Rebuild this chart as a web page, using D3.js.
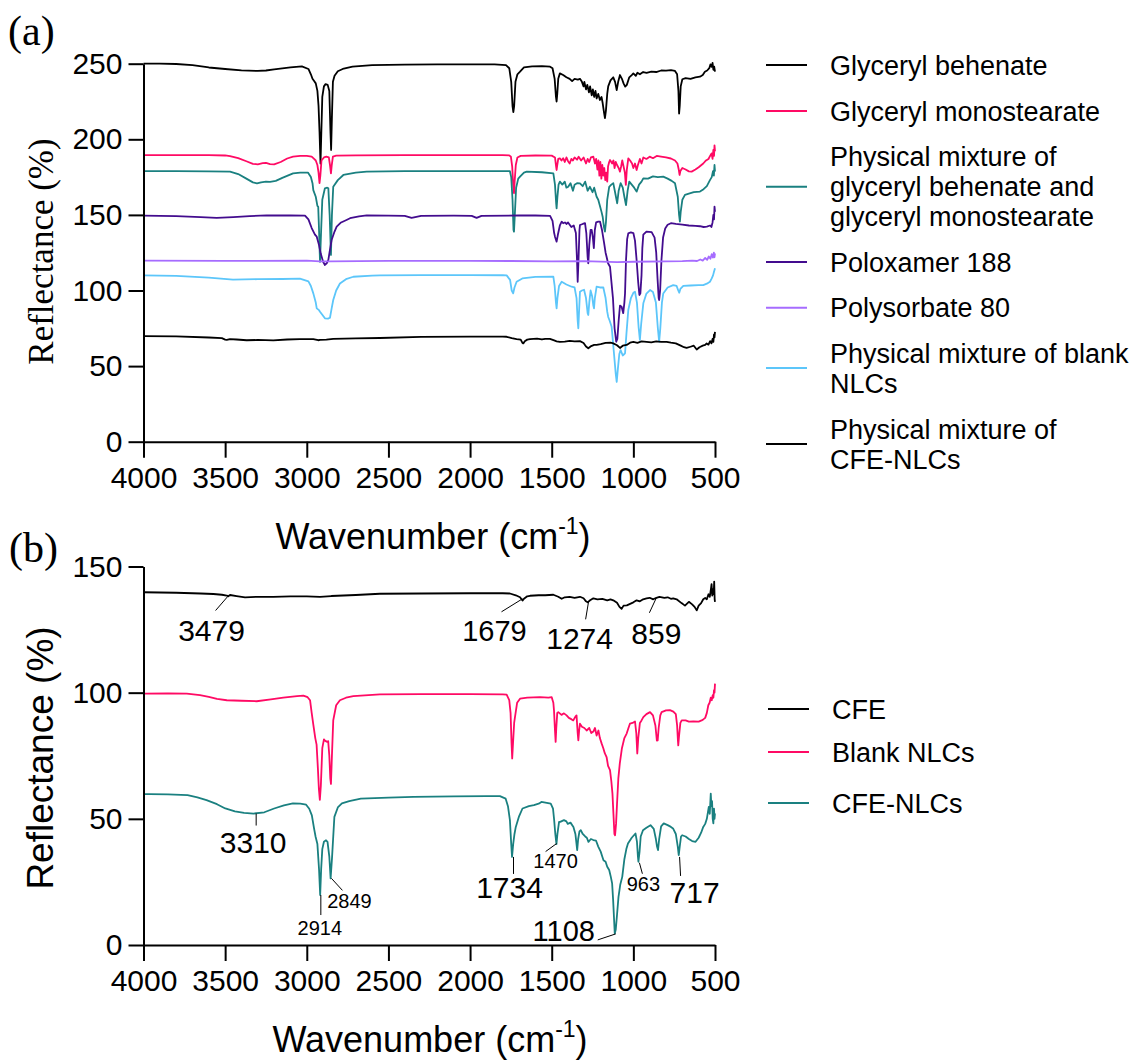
<!DOCTYPE html>
<html>
<head>
<meta charset="utf-8">
<script src="https://cdn.jsdelivr.net/npm/d3@7"></script>
<style>
body { margin: 0; background: #fff; }
text { font-family: Arial, "Liberation Sans", sans-serif; fill: #000; }
</style>
</head>
<body>
<div id="chart"></div>
<script>
// ---- data (wavenumber cm-1, reflectance %) ----
var glyBehenate = [[4000,250],[3900,250],[3800,249.8],[3700,249],[3600,247.5],[3500,246.5],[3400,245.6],[3300,245.2],[3250,245.5],[3200,246.3],[3100,247.5],[3030,248.2],[2990,246.5],[2975,243],[2965,240],[2955,238.5],[2945,237],[2935,232],[2928,222],[2922,205],[2916,184],[2912,200],[2905,228],[2895,235],[2885,236.5],[2872,236],[2862,232],[2855,205],[2851,193],[2846,215],[2840,238],[2830,242],[2810,245],[2780,246.5],[2720,248],[2600,249],[2400,249.4],[2200,249.5],[2000,249.6],[1850,249.5],[1780,249],[1760,247],[1748,238],[1740,222],[1735,218],[1730,222],[1722,238],[1710,243],[1694,244.7],[1670,247.5],[1620,248.2],[1560,248.4],[1510,248],[1495,247],[1482,240],[1474,228],[1470,225],[1466,230],[1460,240],[1450,243.6],[1430,242.5],[1410,241],[1390,240],[1375,238.5],[1360,240],[1340,239.5],[1327,240],[1315,238],[1305,235],[1300,238],[1290,233],[1282,236],[1272,231],[1265,235],[1255,229],[1248,233],[1240,228],[1232,232],[1225,227],[1215,230],[1205,226],[1195,228],[1188,224],[1180,218],[1174,214],[1168,219],[1160,230],[1154,235],[1140,239],[1123,241],[1112,238],[1102,232.6],[1093,238],[1082,242.5],[1070,240],[1060,237],[1050,234.8],[1040,236],[1025,241],[1010,242.5],[1000,243.6],[985,242],[975,244],[960,243],[940,244.5],[919,244],[890,244.8],[860,244.5],[830,245.5],[800,245.4],[770,245.8],[745,245.2],[732,243],[724,232],[720,217],[716,222],[710,235],[700,239.7],[680,240.5],[650,240],[620,241],[592,241.4],[575,242.5],[562,244.7],[548,245.5],[535,247],[528,249.5],[521,248],[515,250.5],[510,246],[505,248],[500,244.7]];

var glyMonostearate = [[4000,189.6],[3800,189.6],[3600,189.5],[3500,189.3],[3470,188.8],[3420,187.5],[3370,185.5],[3330,183.8],[3300,183.4],[3270,184.2],[3250,184.4],[3225,183.6],[3200,183.4],[3160,185],[3120,187.3],[3084,188.5],[3040,189],[3000,189],[2970,188.5],[2955,187],[2945,186],[2935,183],[2928,178],[2922,171],[2917,176],[2910,186],[2895,188],[2880,188.5],[2865,188],[2858,183],[2852,177.5],[2847,183],[2840,188.5],[2820,189.2],[2700,189.4],[2400,189.5],[2000,189.5],[1800,189.5],[1760,189.4],[1750,188.5],[1742,182],[1736,170],[1731,164.3],[1727,172],[1720,183],[1710,188],[1690,189],[1600,189.3],[1500,189.2],[1480,188],[1473,182],[1470,179.7],[1466,183],[1460,187],[1450,187.4],[1440,186],[1430,187.5],[1420,185],[1410,188],[1400,185.5],[1390,184],[1380,187],[1370,186],[1360,188],[1345,186.5],[1335,188.5],[1320,186],[1305,188],[1290,184],[1280,187],[1270,185],[1260,188],[1245,188.5],[1235,184],[1228,187],[1220,180],[1214,186],[1208,176],[1202,185],[1196,174],[1190,183],[1184,176],[1178,181],[1172,173],[1166,178],[1160,172],[1155,182],[1148,185],[1143,186.3],[1130,184],[1122,186],[1115,181],[1108,185],[1100,183],[1090,181],[1082,178.6],[1075,182],[1068,186],[1060,182],[1052,178],[1046,169.8],[1040,180],[1031,187.4],[1020,186],[1008,184],[1000,181],[990,184],[980,179.7],[972,183],[960,187],[950,184],[939,188],[920,187],[900,188.5],[880,187.5],[857,189],[830,188.5],[800,188],[770,187.3],[745,186],[730,184],[722,180],[717,176.4],[712,179],[700,181],[680,180],[660,178.8],[643,178.6],[620,180],[600,181.5],[572,184],[555,186],[540,187],[530,189],[521,190.7],[515,187],[510,193],[506,189],[503,196],[500,192]];

var mixGbGms = [[4000,179],[3800,179],[3600,178.8],[3470,178.6],[3420,177],[3370,174],[3330,171.5],[3305,170.9],[3280,171.5],[3250,172],[3225,171.9],[3190,172.5],[3150,174.5],[3084,177.5],[3040,178],[2993,178],[2975,175],[2965,171],[2960,166.4],[2945,162],[2935,156],[2930,155.4],[2925,140],[2919,119],[2912,140],[2905,160],[2889,167.6],[2875,168],[2868,167.6],[2860,150],[2852,123.5],[2846,150],[2838,168.6],[2810,173],[2776,176.4],[2700,178],[2633,178.6],[2400,179],[2000,179],[1800,179],[1756,178.9],[1748,175],[1740,160],[1734,140],[1731,138.9],[1726,150],[1718,168],[1705,174],[1694,175.3],[1670,178],[1653,178.6],[1560,178.2],[1490,177.5],[1480,170],[1473,158],[1470,154.3],[1465,162],[1458,170],[1450,172],[1435,170],[1420,172],[1410,168],[1399,168.6],[1385,171],[1370,166],[1360,170],[1345,171],[1327,170.9],[1310,169],[1295,172],[1280,166],[1266,168.6],[1250,165],[1240,168],[1225,162],[1215,160],[1205,156],[1195,152],[1188,148.8],[1180,142],[1174,138.9],[1168,145],[1160,160],[1148,168.6],[1135,170],[1123,171],[1112,165],[1099,157.7],[1090,166],[1078,171],[1065,168],[1055,162],[1045,156.5],[1035,166],[1025,172],[1010,170],[995,168],[980,165.4],[965,170],[950,172],[939,174.2],[910,174],[880,175.5],[850,175],[817,175.3],[790,174],[765,172.5],[745,170.9],[728,162],[720,150],[715,145.5],[710,152],[700,160],[684,163.2],[660,164],[630,165],[592,165.4],[570,167],[550,169],[531,173],[520,175],[512,179],[507,176],[503,183],[500,178.6]];

var poloxamer188 = [[4000,149.5],[3800,149.2],[3650,148.5],[3552,148],[3450,148.5],[3350,149.2],[3246,149.7],[3100,149.6],[3011,149.5],[2990,147],[2970,141.3],[2950,137],[2939,135.6],[2925,130],[2915,124.6],[2900,119],[2889,116.9],[2878,118],[2868,120.2],[2858,127],[2848,133.4],[2830,139],[2817,142.2],[2790,145],[2760,146.5],[2735,147.8],[2680,149],[2633,149.7],[2500,149.5],[2400,149.4],[2358,148],[2300,149.4],[2100,149.5],[1990,149.4],[1960,148],[1930,149.4],[1700,149.6],[1600,149.6],[1510,149.4],[1495,146],[1485,138],[1480,135.6],[1470,132.3],[1462,137],[1450,143],[1439,145.5],[1430,144.5],[1419,145],[1410,144],[1400,145],[1380,142],[1365,143],[1352,138],[1345,120],[1341,105.8],[1336,120],[1330,140],[1327,143.3],[1310,144],[1296,144.5],[1288,138],[1280,122],[1276,118],[1270,130],[1262,140],[1255,140],[1248,135],[1242,128],[1236,140],[1228,145],[1215,145.5],[1204,145.5],[1192,140],[1180,132],[1170,125],[1164,122.3],[1155,118],[1143,115.7],[1125,95],[1115,75],[1105,66.1],[1098,68],[1090,80],[1082,90],[1072,89.3],[1062,85],[1055,92],[1051,98],[1045,120],[1038,134],[1031,137.8],[1015,138.5],[1000,138],[990,133],[980,120],[970,105],[963,97],[957,98.1],[950,110],[945,128],[939,137],[920,139],[888,138.6],[870,135],[860,125],[852,108],[845,95],[842,93.7],[836,100],[828,120],[818,135],[805,141],[790,143.5],[770,144.5],[740,144],[700,143.5],[660,143],[620,142.8],[592,142.5],[570,142],[550,142.3],[530,143],[522,142],[515,145],[510,150],[506,147],[503,155.5],[500,152]];

var polysorbate80 = [[4000,119.7],[3500,119.6],[3000,119.7],[2920,119.2],[2860,119.3],[2500,119.6],[2000,119.6],[1750,119.5],[1500,119.3],[1300,119.4],[1100,118.8],[1000,119],[800,119.2],[700,119.4],[640,119.8],[610,119.5],[590,120.5],[575,119.8],[560,121.5],[548,120.3],[538,122.5],[528,121],[520,124],[513,121.8],[507,125],[503,122],[500,124.6]];

var mixBlankNlc = [[4000,110],[3800,109.7],[3600,108.5],[3452,107.2],[3300,107.5],[3150,107.6],[3042,107.8],[2990,106],[2975,103],[2960,98.1],[2945,92],[2939,88.2],[2925,87],[2919,86],[2905,84],[2889,81.6],[2870,81.4],[2858,82],[2848,88],[2838,93.7],[2820,100],[2797,104.6],[2760,107.5],[2715,109.1],[2600,109.8],[2552,110],[2300,110.2],[2000,110.2],[1800,110.1],[1776,110],[1755,107],[1745,100],[1736,98.1],[1728,102],[1715,105.8],[1680,108],[1600,109],[1490,109.1],[1482,103],[1474,92],[1470,88.2],[1465,95],[1455,103],[1439,105.8],[1410,104],[1378,102.5],[1360,102],[1348,95],[1341,80],[1337,75],[1333,85],[1327,99.2],[1315,100],[1302,100.5],[1290,95],[1280,85],[1276,83.8],[1270,92],[1262,100],[1252,96],[1245,90],[1241,88.2],[1236,95],[1225,102.5],[1205,102],[1184,102],[1170,95],[1160,86],[1154,82.5],[1145,80],[1133,76],[1120,60],[1108,45],[1102,39.5],[1095,48],[1086,58],[1078,60.6],[1065,57],[1051,58.5],[1042,72],[1031,87.1],[1015,95],[1000,98.5],[990,99.2],[978,92],[968,76],[960,67.3],[952,78],[939,91.5],[920,98],[898,100.3],[880,99],[862,92],[850,75],[842,66.1],[835,75],[825,92],[817,98],[790,102],[756,103.6],[735,103],[725,100],[719,98.5],[712,101],[694,103],[650,103.3],[600,103.5],[572,103.6],[550,104.5],[531,105.8],[520,108],[512,110],[507,112],[503,113.5],[500,114.7]];

var mixCfeNlc = [[4000,69.8],[3800,69.6],[3600,68.9],[3520,68.5],[3500,67.5],[3490,67.3],[3470,67.8],[3430,67.6],[3368,67.1],[3300,67.3],[3205,67],[3120,67.6],[3042,67.9],[2960,67.8],[2930,67.1],[2919,67.3],[2880,67.5],[2838,68],[2700,68.4],[2552,68.6],[2300,69.3],[2000,69.5],[1800,69.5],[1776,69.4],[1745,68.5],[1715,67.9],[1690,67.5],[1680,65.5],[1674,65],[1665,66.5],[1650,67.5],[1633,67.9],[1590,68.2],[1560,67.6],[1540,68],[1511,68],[1485,67],[1470,66.4],[1450,66],[1420,66.2],[1390,66.7],[1360,66.3],[1327,66.5],[1305,65.3],[1290,63],[1276,61.8],[1262,63],[1240,64],[1225,64],[1200,64.5],[1170,65.3],[1140,65.5],[1123,65],[1100,63.8],[1082,62],[1065,63.5],[1041,64],[1020,65.5],[1000,66],[975,65.4],[950,66.3],[919,66],[890,65.7],[860,66.4],[830,66],[796,66],[770,65.5],[740,65],[710,63.5],[690,62.5],[674,62],[650,62.8],[630,63.5],[612,61],[595,62.5],[575,63.5],[560,64],[551,65],[540,64.2],[530,66.5],[522,65],[515,68],[510,66],[506,71],[503,69],[500,72.6]];

var cfe = [[4000,139.8],[3800,139.6],[3650,139.3],[3572,139.1],[3520,138.8],[3490,138.5],[3481,138.2],[3470,138.7],[3430,138.3],[3378,137.8],[3300,138],[3205,138],[3100,138.2],[3000,138.2],[2919,138],[2850,138.3],[2700,138.7],[2552,139.2],[2300,139.3],[2000,139.4],[1800,139.4],[1756,139.3],[1720,138.6],[1694,137.8],[1679,136.5],[1670,137.2],[1650,138.2],[1633,138.4],[1580,138.6],[1540,138.6],[1490,138.8],[1460,138],[1439,137.2],[1420,137.8],[1390,138],[1360,137.6],[1327,138],[1305,137.4],[1290,136.2],[1280,135.8],[1265,136.6],[1245,137.4],[1220,137],[1190,137.2],[1160,136.6],[1140,137],[1123,136.6],[1100,135.6],[1085,134],[1072,133.2],[1060,134.5],[1040,134.6],[1020,135.2],[1000,135.8],[980,136.6],[960,136.2],[940,137],[919,137.4],[900,137.6],[878,137],[859,137.6],[840,138],[810,137.6],[790,137.8],[770,137.2],[756,137.4],[735,137],[705,135.5],[684,134.5],[660,136],[640,135],[625,134],[612,132.6],[600,134.5],[585,135.5],[572,137],[560,137.5],[550,137],[540,139],[532,138],[525,141],[521,143],[517,138.5],[512,141],[508,139],[505,144],[502,137],[500,136]];

var blankNlc = [[4000,99.6],[3850,99.7],[3735,99.6],[3654,99],[3600,98.3],[3550,97.5],[3490,97],[3400,96.8],[3307,96.6],[3220,97.3],[3144,98],[3060,98.6],[3021,98.8],[2995,98.2],[2980,97],[2970,92],[2960,87.3],[2948,82],[2940,79.4],[2932,70],[2926,62],[2920,57.5],[2914,63],[2905,78],[2895,81.5],[2889,81],[2875,80.5],[2869,80.8],[2862,75],[2856,66],[2852,63.8],[2846,75],[2838,89],[2820,95],[2797,97],[2760,98],[2715,98.6],[2552,99.3],[2300,99.4],[2000,99.4],[1800,99.3],[1776,99.2],[1760,97],[1752,92],[1746,80],[1742,73.9],[1737,80],[1730,88],[1725,90.3],[1712,96],[1694,97.6],[1650,98],[1572,98.2],[1520,98],[1500,98.2],[1490,96],[1486,93],[1480,85],[1476,80.5],[1472,86],[1466,92],[1460,92.3],[1440,91.2],[1425,91.8],[1409,91],[1395,90],[1380,89.5],[1368,89],[1355,90.5],[1348,91],[1341,84],[1337,81.1],[1332,85],[1327,87.7],[1315,86.5],[1300,86],[1286,85],[1270,86],[1258,84],[1245,84.6],[1235,86],[1225,83],[1214,85],[1205,82],[1194,79.8],[1184,78],[1175,76],[1164,74.5],[1155,71],[1143,69.3],[1135,65],[1128,60],[1122,52],[1116,44],[1112,43.5],[1106,48],[1100,56],[1092,66],[1083,72],[1070,78],[1055,82],[1041,83.8],[1030,86],[1021,87.7],[1005,88],[990,88.6],[982,84],[976,75.9],[970,82],[960,88],[950,89],[939,90.3],[920,91.5],[898,92.3],[880,91],[865,87],[856,81],[851,81.1],[845,86],[835,91],[827,92.3],[800,93],[776,93.1],[755,92.5],[740,91.5],[732,87],[727,81],[725,79.1],[720,83],[712,88],[704,89],[680,89],[660,88.5],[633,88.6],[600,88.5],[582,89],[570,89.5],[560,90],[550,92],[541,95],[533,96],[526,98],[520,97],[514,99],[510,98],[506,101],[503,100],[500,103.6]];

var cfeNlc = [[4000,59.8],[3963,59.8],[3850,59.7],[3730,59.4],[3670,58.5],[3614,57.4],[3550,55.8],[3499,54.1],[3440,53],[3384,52.4],[3326,52.1],[3260,52.6],[3200,54.1],[3140,55.3],[3085,56.1],[3040,56],[3004,55.6],[2985,54],[2969,51.4],[2955,46],[2946,42.9],[2935,40],[2925,30],[2918,19.8],[2912,30],[2905,38],[2895,40.9],[2882,41.5],[2873,40.9],[2862,35],[2854,26.4],[2845,35],[2831,50.8],[2810,54.5],[2785,56.1],[2740,57],[2669,58],[2500,58.4],[2347,58.7],[2100,58.9],[1900,59],[1817,59],[1782,58],[1768,55],[1756,49.5],[1748,40],[1743,34.9],[1736,40],[1728,44],[1720,46.8],[1700,51],[1679,54.1],[1640,55],[1609,55.4],[1580,56],[1563,56.7],[1530,56.3],[1506,56],[1492,54],[1485,49.5],[1478,44],[1471,40],[1465,44],[1455,48.8],[1448,48.8],[1425,49.5],[1410,49],[1402,48],[1385,48.5],[1367,46.8],[1355,44],[1348,40],[1344,37.6],[1338,42],[1330,45],[1322,45.5],[1310,44],[1295,43],[1285,42.5],[1275,40.9],[1260,42],[1245,41.6],[1229,41.4],[1215,39],[1200,37],[1190,35],[1183,33.6],[1170,33],[1160,31],[1148,29.7],[1138,27],[1130,24.4],[1124,18],[1118,10],[1114,4.6],[1108,6],[1100,12],[1091,19.1],[1080,24],[1068,27],[1055,34],[1043,38],[1033,40.2],[1010,42.5],[987,44.2],[978,41],[972,35],[969,33],[962,37],[955,43],[941,45.5],[920,46.5],[895,47.5],[875,46],[862,42],[855,39],[849,37.6],[842,42],[830,47],[814,48.2],[790,47.5],[770,46.8],[757,46.2],[740,44],[728,39],[722,35.6],[716,39],[708,43],[701,43.5],[680,43],[660,42],[640,41.2],[619,40.9],[600,42.5],[585,44.5],[572,46.8],[560,48],[550,50],[538,54.7],[532,52],[526,60],[522,55],[518,57],[514,50],[510,48.2],[506,54],[503,50],[500,52.1]];

// series, legend text, colours
var seriesA = [glyBehenate, glyMonostearate, mixGbGms, poloxamer188, polysorbate80, mixBlankNlc, mixCfeNlc];
var labelsA = [["Glyceryl behenate"], ["Glyceryl monostearate"], ["Physical mixture of", "glyceryl behenate and", "glyceryl monostearate"], ["Poloxamer 188"], ["Polysorbate 80"], ["Physical mixture of blank", "NLCs"], ["Physical mixture of", "CFE-NLCs"]];
var colorsA = ["#000000", "#ff0a64", "#1a8080", "#430c8e", "#a66cff", "#5cc6fa", "#000000"];

var seriesB = [cfe, blankNlc, cfeNlc];
var labelsB = ["CFE", "Blank NLCs", "CFE-NLCs"];
var colorsB = ["#000000", "#ff0a64", "#1a8080"];

// peak annotations: wavenumber, value on curve, text
var peaksCfe = [[3479, 138.5, "3479"], [1679, 137.2, "1679"], [1274, 136.2, "1274"], [859, 137.6, "859"]];
var peaksCfeNlc = [[3310, 52.1, "3310"], [2914, 19.8, "2914"], [2849, 26.4, "2849"], [1734, 34.9, "1734"], [1470, 40.2, "1470"], [1108, 4.4, "1108"], [963, 32.6, "963"], [717, 34.9, "717"]];

var xMajor = [4000, 3500, 3000, 2500, 2000, 1500, 1000, 500];
var xMinor = [3750, 3250, 2750, 2250, 1750, 1250, 750];
var yMajorA = [0, 50, 100, 150, 200, 250];
var yMinorA = [25, 75, 125, 175, 225];
var yMajorB = [0, 50, 100, 150];
var yMinorB = [25, 75, 125];

// ---- drawing ----
var width = 1130, height = 1061;

var svg = d3.select("#chart").append("svg")
    .attr("width", width)
    .attr("height", height);

var xA = d3.scaleLinear().domain([4000, 500]).range([143.5, 715]);
var yA = d3.scaleLinear().domain([0, 250]).range([441.7, 63.7]);
var xB = d3.scaleLinear().domain([4000, 500]).range([143.5, 715]);
var yB = d3.scaleLinear().domain([0, 150]).range([945, 566.5]);

function drawAxes(x, y, yMajor, yMinor) {
    var y0 = y.range()[0];
    var gx = svg.append("g").attr("transform", "translate(0," + y0 + ")");
    gx.call(d3.axisBottom(x).tickValues(xMinor).tickSize(10).tickFormat("").tickSizeOuter(0));
    gx.call(d3.axisBottom(x).tickValues(xMajor).tickSize(16).tickPadding(9).tickSizeOuter(0).tickFormat(d3.format("d")));

    var gy = svg.append("g").attr("transform", "translate(" + x.range()[0] + ",0)");
    gy.call(d3.axisLeft(y).tickValues(yMinor).tickSize(8).tickFormat("").tickSizeOuter(0));
    gy.call(d3.axisLeft(y).tickValues(yMajor).tickSize(15).tickPadding(6).tickSizeOuter(0).tickFormat(d3.format("d")));

    [gx, gy].forEach(function (g) {
        g.selectAll("path.domain").attr("stroke", "#000").attr("stroke-width", 2);
        g.selectAll(".tick line").attr("stroke", "#000").attr("stroke-width", 2);
        g.selectAll(".tick text")
            .attr("font-size", 30)
            .attr("fill", "#000");
    });
}

function drawLines(series, colors, x, y) {
    var line = d3.line().x(d => x(d[0])).y(d => y(d[1]));
    svg.append("g").selectAll("path")
        .data(series)
        .enter().append("path")
        .attr("d", line)
        .attr("fill", "none")
        .attr("stroke", (d, i) => colors[i])
        .attr("stroke-width", 1.8)
        .attr("stroke-linejoin", "round");
}

drawLines(seriesA, colorsA, xA, yA);
drawAxes(xA, yA, yMajorA, yMinorA);
drawLines(seriesB, colorsB, xB, yB);
drawAxes(xB, yB, yMajorB, yMinorB);

// panel letters
svg.append("text").attr("x", 8).attr("y", 45)
    .style("font-family", "'Liberation Serif', 'Times New Roman', serif").attr("font-size", 42).text("(a)");
svg.append("text").attr("x", 9).attr("y", 562)
    .style("font-family", "'Liberation Serif', 'Times New Roman', serif").attr("font-size", 42).text("(b)");

// y titles
svg.append("text")
    .attr("transform", "translate(53,251.5) rotate(-90)")
    .attr("text-anchor", "middle")
    .style("font-family", "'Liberation Serif', 'Times New Roman', serif")
    .attr("font-size", 35)
    .text("Reflectance (%)");
svg.append("text")
    .attr("transform", "translate(53,758) rotate(-90)")
    .attr("text-anchor", "middle")
    .attr("font-size", 37)
    .text("Reflectance (%)");

// x titles
function xTitle(cx, by) {
    var t = svg.append("text").attr("x", cx).attr("y", by)
        .attr("text-anchor", "middle").attr("font-size", 36);
    t.append("tspan").text("Wavenumber (cm");
    t.append("tspan").attr("font-size", 23).attr("dy", -15).text("-1");
    t.append("tspan").attr("dy", 15).text(")");
}
xTitle(433, 549);
xTitle(430, 1052);

// legend (a)
var rowYA = [65, 111, 186.7, 262, 307.7, 368, 444];
var legA = svg.append("g");
labelsA.forEach(function (lines, i) {
    var cy = rowYA[i];
    legA.append("line").attr("x1", 766).attr("x2", 807).attr("y1", cy).attr("y2", cy)
        .attr("stroke", colorsA[i]).attr("stroke-width", 2);
    var top = cy - (lines.length - 1) * 30 / 2;
    lines.forEach(function (s, j) {
        legA.append("text").attr("x", 830).attr("y", top + j * 30).attr("dy", "0.36em")
            .attr("font-size", 27).text(s);
    });
});

// legend (b)
var rowYB = [709, 752, 803];
var legB = svg.append("g");
labelsB.forEach(function (s, i) {
    legB.append("line").attr("x1", 768).attr("x2", 809).attr("y1", rowYB[i]).attr("y2", rowYB[i])
        .attr("stroke", colorsB[i]).attr("stroke-width", 2);
    legB.append("text").attr("x", 832).attr("y", rowYB[i]).attr("dy", "0.36em")
        .attr("font-size", 27).text(s);
});

// peak labels: leader end offset and label centre offset from the peak point
var cfeLayout = [[-13, 15, -17, 35, 30], [-21, 13, -28, 32, 29], [-3, 18, -9, 37, 30], [-7, 15, 0, 35, 30]];
var cfeNlcLayout = [[0, 12, -3, 29, 30], [0, 20, -1, 33, 20], [11, 12, 18, 22, 20], [0, 17, -4, 30, 30],
    [-11, 8, -1, 17, 20], [-18, 6, -52, -3, 29], [3, 11, 4, 21, 20], [1, 19, 15, 35, 30]];

function drawPeaks(peaks, layout, x, y) {
    var g = svg.append("g");
    peaks.forEach(function (p, i) {
        var px = x(p[0]), py = y(p[1]), L = layout[i];
        g.append("line").attr("x1", px).attr("y1", py).attr("x2", px + L[0]).attr("y2", py + L[1])
            .attr("stroke", "#000").attr("stroke-width", 1);
        g.append("text").attr("x", px + L[2]).attr("y", py + L[3]).attr("dy", "0.36em")
            .attr("text-anchor", "middle").attr("font-size", L[4]).text(p[2]);
    });
}
drawPeaks(peaksCfe, cfeLayout, xB, yB);
drawPeaks(peaksCfeNlc, cfeNlcLayout, xB, yB);
</script>
</body>
</html>
